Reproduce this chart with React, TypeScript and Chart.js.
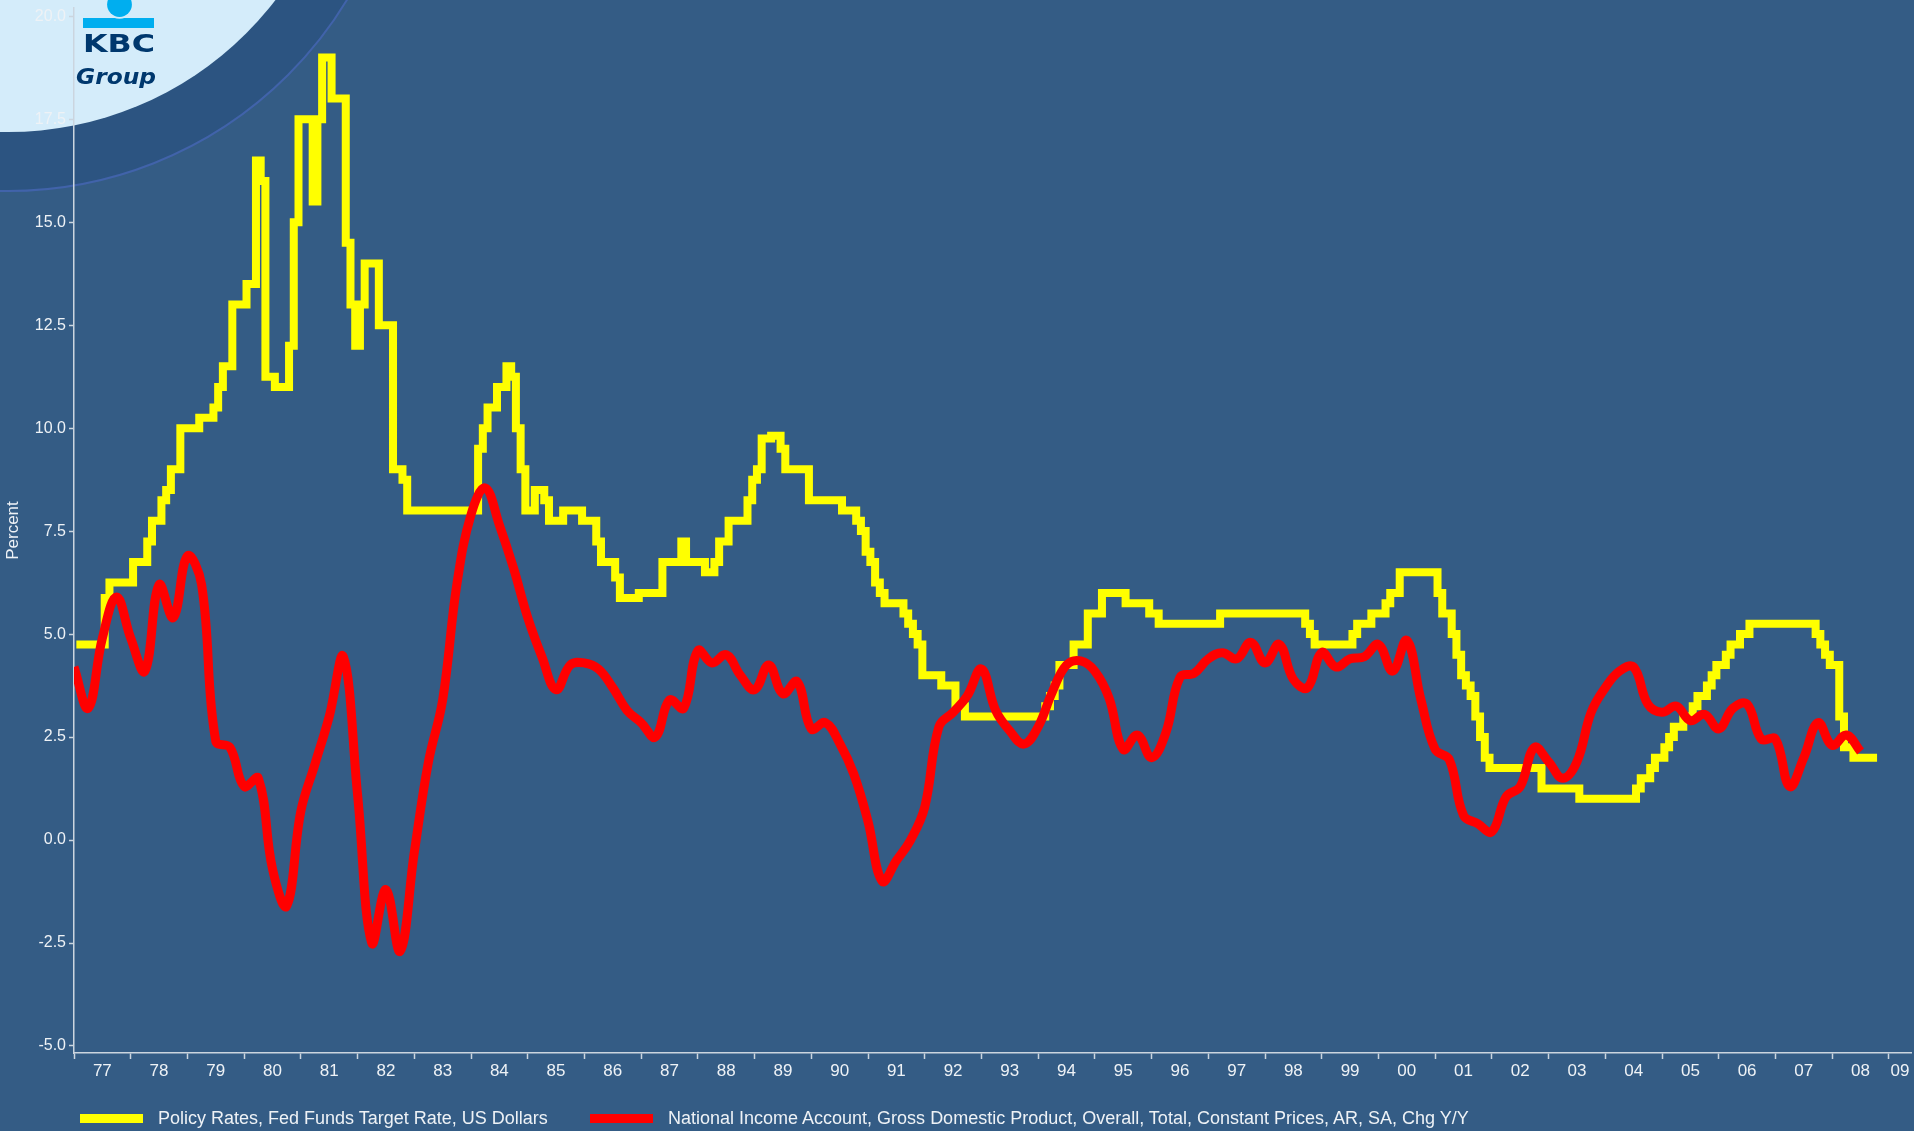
import React, { useEffect, useRef } from 'react';
import { Chart, registerables } from 'chart.js';

Chart.register(...registerables);

// ---------- DATA ----------
// Fed Funds target rate: month of each change (value holds until next change)
const fedMonths: string[] = [
  '1977-01', '1977-07', '1977-08',
  '1978-01', '1978-04', '1978-05', '1978-07', '1978-08', '1978-09', '1978-11',
  '1979-03', '1979-06', '1979-07', '1979-08', '1979-10',
  '1980-01', '1980-03', '1980-04', '1980-05', '1980-07', '1980-10', '1980-11', '1980-12',
  '1981-03', '1981-04', '1981-05', '1981-07', '1981-10', '1981-11', '1981-12',
  '1982-01', '1982-02', '1982-05', '1982-08', '1982-10', '1982-11',
  '1984-02', '1984-03', '1984-04', '1984-06', '1984-08', '1984-09', '1984-10', '1984-11', '1984-12',
  '1985-02', '1985-04', '1985-05', '1985-08', '1985-12',
  '1986-03', '1986-04', '1986-07', '1986-08', '1986-12',
  '1987-05', '1987-09', '1987-10',
  '1988-02', '1988-04', '1988-05', '1988-07', '1988-11', '1988-12',
  '1989-01', '1989-02', '1989-04', '1989-06', '1989-07', '1989-12',
  '1990-07', '1990-10', '1990-11', '1990-12',
  '1991-01', '1991-02', '1991-03', '1991-04', '1991-08', '1991-09', '1991-10', '1991-11', '1991-12',
  '1992-04', '1992-07', '1992-09',
  '1994-02', '1994-03', '1994-04', '1994-05', '1994-08', '1994-11',
  '1995-02', '1995-07', '1995-12',
  '1996-02',
  '1997-03',
  '1998-09', '1998-10', '1998-11',
  '1999-07', '1999-08', '1999-11',
  '2000-02', '2000-03', '2000-05',
  '2001-01', '2001-02', '2001-04', '2001-05', '2001-06', '2001-07', '2001-08', '2001-09', '2001-10', '2001-11', '2001-12',
  '2002-11',
  '2003-07',
  '2004-07', '2004-08', '2004-10', '2004-11',
  '2005-01', '2005-02', '2005-03', '2005-05', '2005-07', '2005-08', '2005-10', '2005-11', '2005-12',
  '2006-02', '2006-03', '2006-05', '2006-07',
  '2007-09', '2007-10', '2007-11', '2007-12',
  '2008-02', '2008-03', '2008-05', '2008-10',
];
const fedRates: number[] = [
  4.75, 5.875, 6.25,
  6.75, 7.25, 7.75, 8.25, 8.5, 9.0, 10.0,
  10.25, 10.5, 11.0, 11.5, 13.0,
  13.5, 16.5, 16.0, 11.25, 11.0, 12.0, 15.0, 17.5,
  15.5, 17.5, 19.0, 18.0, 14.5, 13.0, 12.0,
  13.0, 14.0, 12.5, 9.0, 8.75, 8.0,
  9.5, 10.0, 10.5, 11.0, 11.5, 11.25, 10.0, 9.0, 8.0,
  8.5, 8.25, 7.75, 8.0, 7.75,
  7.25, 6.75, 6.375, 5.875, 6.0,
  6.75, 7.25, 6.75,
  6.5, 6.75, 7.25, 7.75, 8.25, 8.75,
  9.0, 9.75, 9.8125, 9.5, 9.0, 8.25,
  8.0, 7.75, 7.5, 7.0,
  6.75, 6.25, 6.0, 5.75, 5.5, 5.25, 5.0, 4.75, 4.0,
  3.75, 3.25, 3.0,
  3.25, 3.5, 3.75, 4.25, 4.75, 5.5,
  6.0, 5.75, 5.5,
  5.25,
  5.5,
  5.25, 5.0, 4.75,
  5.0, 5.25, 5.5,
  5.75, 6.0, 6.5,
  6.0, 5.5, 5.0, 4.5, 4.0, 3.75, 3.5, 3.0, 2.5, 2.0, 1.75,
  1.25,
  1.0,
  1.25, 1.5, 1.75, 2.0,
  2.25, 2.5, 2.75, 3.0, 3.25, 3.5, 3.75, 4.0, 4.25,
  4.5, 4.75, 5.0, 5.25,
  5.0, 4.75, 4.5, 4.25,
  3.0, 2.25, 2.0, 2.0,
];

// GDP, constant prices, % y/y, quarterly, first value = 1976 Q4 (quarter end)
const gdpFirstQuarterEnd = 1977.0;
const gdpGrowth: number[] = [
  4.2, 3.2, 4.9, 5.9,      // 1977
  4.9, 4.1, 6.2, 5.4,      // 1978
  6.9, 6.2, 2.4, 2.25,     // 1979
  1.3, 1.5, -0.7, -1.6,    // 1980
  0.7, 1.85, 3.0, 4.45,    // 1981
  1.1, -2.5, -1.2, -2.7,   // 1982
  -0.3, 1.9, 3.4, 6.2,     // 1983
  7.9, 8.55, 7.65, 6.6,    // 1984
  5.4, 4.45, 3.65, 4.25,   // 1985
  4.3, 4.15, 3.7, 3.15,    // 1986
  2.85, 2.5, 3.4, 3.2,     // 1987
  4.6, 4.3, 4.5, 4.0,      // 1988
  3.65, 4.25, 3.55, 3.85,  // 1989
  2.7, 2.85, 2.35, 1.6,    // 1990
  0.45, -1.0, -0.5, 0.0,   // 1991
  0.8, 2.75, 3.1, 3.5,     // 1992
  4.15, 3.15, 2.65, 2.33,  // 1993
  2.75, 3.6, 4.25, 4.35,   // 1994
  4.1, 3.45, 2.2, 2.55,    // 1995
  2.0, 2.6, 3.95, 4.05,    // 1996
  4.4, 4.55, 4.4, 4.8,     // 1997
  4.3, 4.75, 3.9, 3.7,     // 1998
  4.55, 4.2, 4.4, 4.45,    // 1999
  4.75, 4.1, 4.85, 3.4,    // 2000
  2.2, 1.95, 0.6, 0.4,     // 2001
  0.2, 1.05, 1.3, 2.25,    // 2002
  1.9, 1.5, 1.9, 3.1,      // 2003
  3.7, 4.1, 4.2, 3.3,      // 2004
  3.1, 3.25, 2.9, 3.05,    // 2005
  2.7, 3.2, 3.3, 2.45,     // 2006
  2.45, 1.3, 2.0, 2.85,    // 2007
  2.3, 2.55, 2.15,         // 2008
];

const yearLabels: string[] = [
  '77', '78', '79', '80', '81', '82', '83', '84', '85', '86', '87', '88', '89', '90', '91', '92', '93',
  '94', '95', '96', '97', '98', '99', '00', '01', '02', '03', '04', '05', '06', '07', '08', '09',
];
const yTickValues: number[] = [-5, -2.5, 0, 2.5, 5, 7.5, 10, 12.5, 15, 17.5, 20];

const fedLabel = 'Policy Rates, Fed Funds Target Rate, US Dollars';
const gdpLabel = 'National Income Account, Gross Domestic Product, Overall, Total, Constant Prices, AR, SA, Chg Y/Y';

// ---------- STYLE ----------
const X_MIN = 1977;
const X_MAX = 2009.39;
const Y_MIN = -5.17;
const Y_MAX = 20.2;
const BG = '#345C85';
const AXIS = '#CBD5DF';
const TEXT = '#EEF2F6';
const FONT = '"Liberation Sans", Arial, sans-serif';

function monthToYear(s: string): number {
  const [y, m] = s.split('-').map(Number);
  return y + (m - 1) / 12 + 1 / 24;
}

const boundaries = yearLabels.map((_, i) => X_MIN + i);
const labelPositions = yearLabels.map((_, i) => {
  const s = X_MIN + i;
  const e = Math.min(s + 1, X_MAX);
  return (s + e) / 2;
});

const backgroundPlugin = {
  id: 'kbcBackground',
  beforeDraw(chart: any) {
    const ctx: CanvasRenderingContext2D = chart.ctx;
    const { width, height } = chart;
    ctx.save();
    ctx.fillStyle = BG;
    ctx.fillRect(0, 0, width, height);
    // dark band + thin arc
    ctx.beginPath();
    ctx.arc(8, -205, 396, 0, Math.PI * 2);
    ctx.fillStyle = '#2C5481';
    ctx.fill();
    ctx.lineWidth = 2;
    ctx.strokeStyle = '#4163AA';
    ctx.stroke();
    // light circle
    ctx.beginPath();
    ctx.arc(8, -205, 337, 0, Math.PI * 2);
    ctx.fillStyle = '#D4ECFA';
    ctx.fill();
    // logo: bar + ball
    ctx.fillStyle = '#00AEEF';
    ctx.fillRect(83, 18, 71, 10);
    ctx.beginPath();
    ctx.arc(119.5, 4.5, 14.3, 0, Math.PI * 2);
    ctx.fillStyle = '#D4ECFA';
    ctx.fill();
    ctx.beginPath();
    ctx.arc(119.5, 4.5, 12.4, 0, Math.PI * 2);
    ctx.fillStyle = '#00AEEF';
    ctx.fill();
    // KBC
    ctx.fillStyle = '#00386E';
    ctx.textBaseline = 'alphabetic';
    ctx.font = 'bold 25px "DejaVu Sans", sans-serif';
    let w = ctx.measureText('KBC').width;
    ctx.save();
    ctx.translate(83, 52);
    ctx.scale(72 / w, 1);
    ctx.fillText('KBC', 0, 0);
    ctx.restore();
    // Group
    ctx.font = 'italic bold 22px "DejaVu Sans", sans-serif';
    w = ctx.measureText('Group').width;
    ctx.save();
    ctx.translate(76, 84);
    ctx.scale(80 / w, 1);
    ctx.fillText('Group', 0, 0);
    ctx.restore();
    ctx.restore();
  },
};

export default function App() {
  const canvasRef = useRef<HTMLCanvasElement | null>(null);

  useEffect(() => {
    const canvas = canvasRef.current;
    if (!canvas) return;
    const fedData = fedMonths.map((m, i) => ({ x: monthToYear(m), y: fedRates[i] }));
    const gdpData = gdpGrowth.map((v, i) => ({ x: gdpFirstQuarterEnd + i * 0.25, y: v }));

    const chart = new Chart(canvas, {
      type: 'line',
      data: {
        datasets: [
          {
            label: fedLabel,
            data: fedData,
            borderColor: '#FFFF00',
            backgroundColor: '#FFFF00',
            borderWidth: 8,
            stepped: true,
            pointRadius: 0,
            borderJoinStyle: 'miter',
            borderCapStyle: 'butt',
            fill: false,
            order: 2,
          },
          {
            label: gdpLabel,
            data: gdpData,
            borderColor: '#FF0000',
            backgroundColor: '#FF0000',
            borderWidth: 9,
            tension: 0.4,
            pointRadius: 0,
            borderJoinStyle: 'round',
            borderCapStyle: 'butt',
            fill: false,
            order: 1,
          },
        ],
      },
      options: {
        responsive: false,
        animation: false,
        devicePixelRatio: 1,
        events: [],
        layout: { padding: { left: 0, right: 3, top: 8, bottom: 38 } },
        plugins: {
          legend: { display: false },
          tooltip: { enabled: false },
        },
        scales: {
          x: {
            type: 'linear',
            min: X_MIN,
            max: X_MAX,
            afterBuildTicks: (s: any) => {
              s.ticks = [...boundaries, ...labelPositions]
                .sort((a, b) => a - b)
                .map((v) => ({ value: v }));
            },
            afterFit: (s: any) => {
              s.height = 40;
              s.paddingLeft = 0;
              s.paddingRight = 0;
            },
            ticks: {
              autoSkip: false,
              maxRotation: 0,
              minRotation: 0,
              padding: 2,
              color: TEXT,
              font: { family: FONT, size: 17 },
              callback: (value: any) => {
                const i = labelPositions.findIndex((p) => Math.abs(p - Number(value)) < 1e-6);
                return i >= 0 ? yearLabels[i] : '';
              },
            },
            grid: {
              drawOnChartArea: false,
              drawTicks: true,
              tickLength: 6,
              tickWidth: 1.5,
              tickColor: (c: any) =>
                c.tick && boundaries.some((b) => Math.abs(b - c.tick.value) < 1e-6) ? AXIS : 'rgba(0,0,0,0)',
            },
            border: { display: true, color: AXIS, width: 1.5 },
          },
          y: {
            type: 'linear',
            min: Y_MIN,
            max: Y_MAX,
            afterBuildTicks: (s: any) => {
              s.ticks = yTickValues.map((v) => ({ value: v }));
            },
            afterFit: (s: any) => {
              s.width = 74;
              s.paddingTop = 0;
              s.paddingBottom = 0;
            },
            ticks: {
              padding: 3,
              color: TEXT,
              font: { family: FONT, size: 16 },
              callback: (value: any) => Number(value).toFixed(1),
            },
            grid: {
              drawOnChartArea: false,
              drawTicks: true,
              tickLength: 5,
              tickWidth: 1.5,
              tickColor: AXIS,
            },
            border: { display: true, color: AXIS, width: 1.5 },
            title: {
              display: true,
              text: 'Percent',
              color: TEXT,
              font: { family: FONT, size: 17 },
              padding: { top: 3, bottom: 0 },
            },
          },
        },
      },
      plugins: [backgroundPlugin],
    } as any);

    return () => chart.destroy();
  }, []);

  const legendText: React.CSSProperties = {
    position: 'absolute',
    top: 1109,
    font: `18px ${FONT}`,
    lineHeight: '18px',
    color: TEXT,
    whiteSpace: 'nowrap',
  };

  return (
    <div
      style={{
        position: 'fixed',
        left: 0,
        top: 0,
        width: 1914,
        height: 1131,
        overflow: 'hidden',
        background: BG,
      }}
    >
      <canvas ref={canvasRef} width={1914} height={1131} style={{ display: 'block', width: 1914, height: 1131 }} />
      <div style={{ position: 'absolute', left: 80, top: 1114, width: 63, height: 9, background: '#FFFF00' }} />
      <div style={{ ...legendText, left: 158 }}>{fedLabel}</div>
      <div style={{ position: 'absolute', left: 590, top: 1114, width: 63, height: 9, background: '#FF0000' }} />
      <div style={{ ...legendText, left: 668 }}>{gdpLabel}</div>
    </div>
  );
}
